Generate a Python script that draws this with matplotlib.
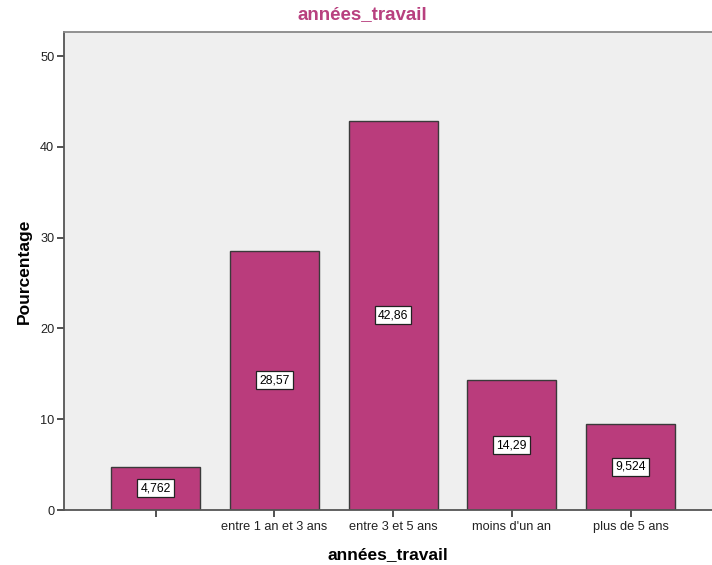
import matplotlib
matplotlib.use("Agg")
import matplotlib.pyplot as plt
import numpy as np

plt.rcParams["font.family"] = ["Liberation Sans", "DejaVu Sans"]

categories = ["", "entre 1 an et 3 ans", "entre 3 et 5 ans", "moins d'un an", "plus de 5 ans"]
pourcentages = [4.762, 28.57, 42.86, 14.29, 9.524]
etiquettes = ["4,762", "28,57", "42,86", "14,29", "9,524"]

bar_color = "#BA3C7C"

fig = plt.figure(figsize=(7.12, 5.65), dpi=100)
ax = fig.add_axes([0.0899, 0.0973, 0.9101, 0.8460])
ax.set_facecolor("#EFEFEF")

x = np.arange(len(categories))
ax.bar(x, pourcentages, width=0.75, color=bar_color,
       edgecolor="#3A3A3A", linewidth=1.0, zorder=2)

# value boxes sit halfway up each bar
for xi, v, lab in zip(x, pourcentages, etiquettes):
    ax.text(xi, v / 2, lab, ha="center", va="center", fontsize=8.8,
            color="black", zorder=3,
            bbox=dict(boxstyle="square,pad=0.25", fc="white",
                      ec="#222222", lw=0.9))

ax.set_xlim(-0.771, 4.686)
ax.set_ylim(0, 52.64)
ax.set_xticks(x)
ax.set_xticklabels(categories, fontsize=9.2, color="#222222")
ax.set_yticks([0, 10, 20, 30, 40, 50])
ax.tick_params(axis="y", labelsize=9.2, length=5, width=1.2,
               color="#333333", labelcolor="#222222", pad=2)
ax.tick_params(axis="x", length=5, width=1.2, color="#333333", pad=3)

for side in ("left", "bottom"):
    ax.spines[side].set_color("#555555")
    ax.spines[side].set_linewidth(1.3)
ax.spines["top"].set_color("#888888")
ax.spines["top"].set_linewidth(1.3)
ax.spines["right"].set_visible(False)

ax.set_ylabel("Pourcentage", fontsize=12.5, fontweight="bold", labelpad=6)
ax.set_xlabel("années_travail", fontsize=12.5, fontweight="bold", labelpad=10)
ax.set_title("années_travail", fontsize=13.5, fontweight="bold",
             color="#B8407F", pad=9, x=0.46)

fig.savefig("out.png", dpi=100)
